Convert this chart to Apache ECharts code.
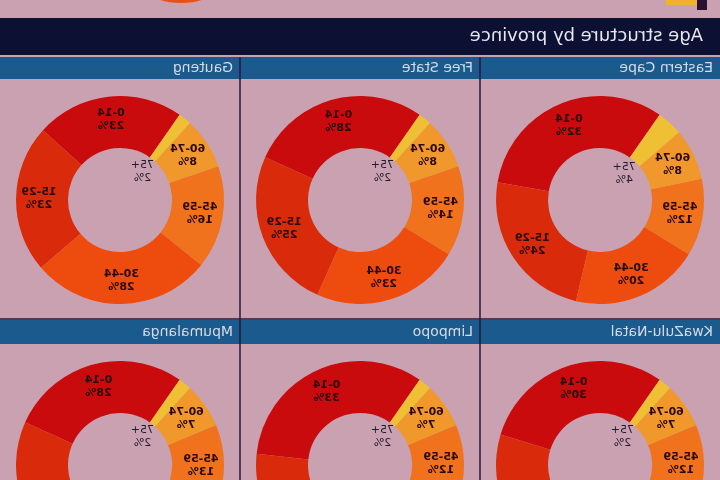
<!DOCTYPE html>
<html>
<head>
<meta charset="utf-8">
<script src="https://cdn.jsdelivr.net/npm/echarts@6/dist/echarts.min.js"></script>
<style>
  html, body { margin: 0; padding: 0; background: #c9a1b1; }
  #chart { width: 720px; height: 480px; transform: scaleX(-1); transform-origin: center; }
</style>
</head>
<body>
<div id="chart"></div>
<script>
// ---- data ----
const chartTitle = 'Age structure by province';
const provinces = ['Eastern Cape', 'Free State', 'Gauteng', 'KwaZulu-Natal', 'Limpopo', 'Mpumalanga'];
const ageGroups = ['0-14', '15-29', '30-44', '45-59', '60-74', '75+'];
const easternCape = [32, 24, 20, 12, 8, 4];
const freeState = [28, 25, 23, 14, 8, 2];
const gauteng = [23, 23, 28, 16, 8, 2];
const kwaZuluNatal = [30, 28, 21, 12, 7, 2];
const limpopo = [33, 28, 18, 12, 7, 2];
const mpumalanga = [28, 28, 22, 13, 7, 2];
const provinceValues = [easternCape, freeState, gauteng, kwaZuluNatal, limpopo, mpumalanga];

// ---- styles ----
const sliceColors = ['#ca0b0d', '#da2a0c', '#ee4c0e', '#f0721c', '#f1982c', '#f0c034'];
const FONT = 'DejaVu Sans';
const colW = 240;
const rowTops = [57, 320];
const headerH = [22, 24];
const pieCY = [200, 465];

const chart = echarts.init(document.getElementById('chart'));

const titles = [{
  text: chartTitle, left: 17, top: 27, padding: 0,
  textStyle: { fontFamily: FONT, fontSize: 18, fontWeight: 'normal', color: '#e8e6ee' }
}];
const graphics = [
  { type: 'rect', shape: { x: 0, y: 18, width: 720, height: 37 }, style: { fill: '#0c1033' }, z: -10 },
  // fragments of the figure part above (cut off)
  { type: 'ellipse', shape: { cx: 539, cy: -8, rx: 30, ry: 11 }, style: { fill: '#e8501a' }, z: -10 },
  { type: 'rect', shape: { x: 23, y: 0, width: 31, height: 5 }, style: { fill: '#f0b030' }, z: -10 },
  { type: 'rect', shape: { x: 13, y: 0, width: 10, height: 10 }, style: { fill: '#2a1030' }, z: -10 }
];
const series = [];

provinces.forEach((name, i) => {
  const col = i % 3, row = Math.floor(i / 3);
  const x0 = col * colW, y0 = rowTops[row];
  graphics.push({ type: 'rect', shape: { x: x0, y: y0, width: colW, height: headerH[row] }, style: { fill: '#1b5a8c' }, z: -9 });
  titles.push({
    text: name, left: x0 + 7, top: y0 + headerH[row] / 2 - 7, padding: 0,
    textStyle: { fontFamily: FONT, fontSize: 14, fontWeight: 'normal', color: '#d6dbe6' }
  });
  const cx = x0 + colW / 2, cy = pieCY[row];
  const vals = provinceValues[i];
  series.push({
    type: 'pie', center: [cx, cy], radius: [52, 104], startAngle: 125, clockwise: true,
    silent: true, animation: false,
    label: {
      show: true, position: 'inside', formatter: '{b}\n{c}%',
      fontFamily: FONT, fontSize: 11, fontWeight: 'bold', color: '#2a0808', lineHeight: 13
    },
    labelLine: { show: false },
    data: ageGroups.map((g, k) => ({
      name: g, value: vals[k], itemStyle: { color: sliceColors[k] },
      label: { show: k !== ageGroups.length - 1 }
    }))
  });
  // labels of the smallest group placed towards the hole
  series.push({
    type: 'pie', center: [cx, cy], radius: [0, 66], startAngle: 125, clockwise: true,
    silent: true, animation: false, z: 3,
    label: {
      show: true, position: 'inside', formatter: '{b}\n{c}%',
      fontFamily: FONT, fontSize: 11, fontWeight: 'normal', color: '#241a2c', lineHeight: 13
    },
    labelLine: { show: false },
    data: ageGroups.map((g, k) => ({
      name: g, value: vals[k], itemStyle: { color: 'rgba(0,0,0,0)' },
      label: { show: k === ageGroups.length - 1 }
    }))
  });
});

// panel dividers
[240, 480].forEach(x => {
  graphics.push({ type: 'line', shape: { x1: x, y1: 57, x2: x, y2: 480 }, style: { stroke: '#2a1838', lineWidth: 1.5 }, z: -8 });
});
graphics.push({ type: 'line', shape: { x1: 0, y1: 319, x2: 720, y2: 319 }, style: { stroke: '#2a1838', lineWidth: 1.5 }, z: -8 });

chart.setOption({
  backgroundColor: '#c9a1b1',
  animation: false,
  title: titles,
  graphic: graphics,
  series: series
});
</script>
</body>
</html>
